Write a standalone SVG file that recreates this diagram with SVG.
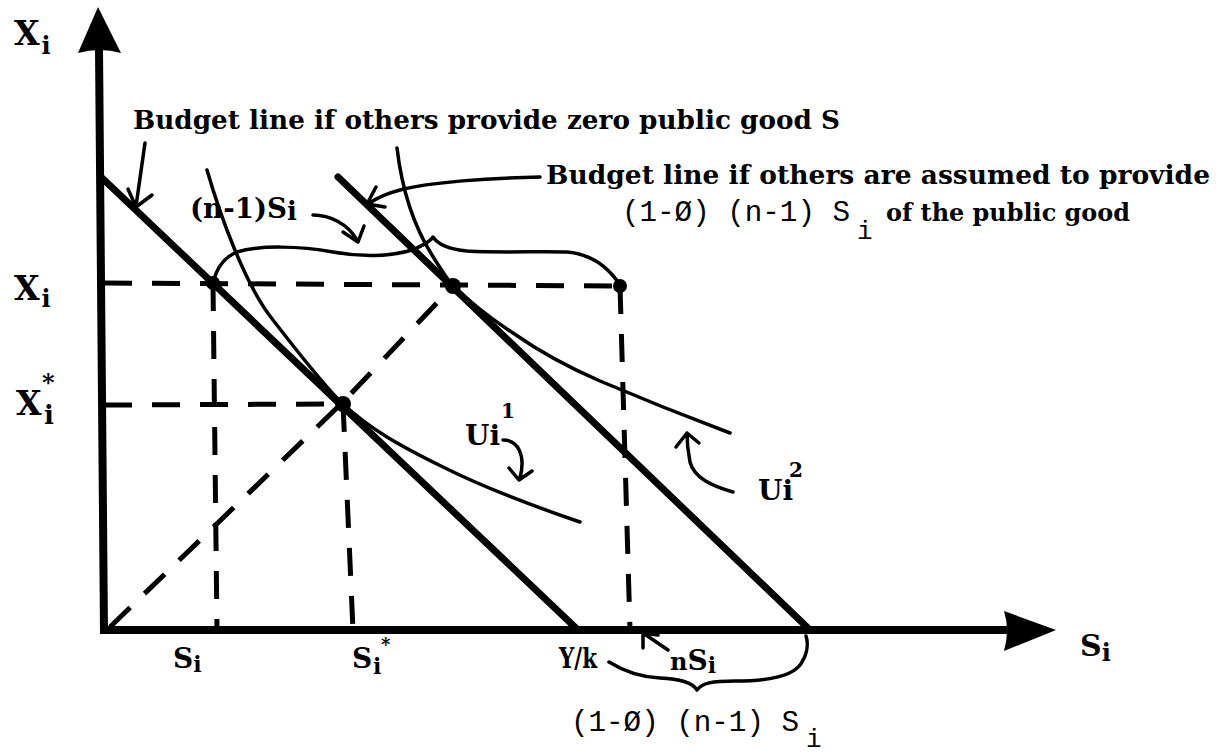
<svg xmlns="http://www.w3.org/2000/svg" width="1223" height="756" viewBox="0 0 1223 756">
<style>
.ax{stroke:#000;stroke-width:8;fill:none}
.bl{stroke:#000;stroke-width:7;fill:none;stroke-linecap:round}
.ic{stroke:#000;stroke-width:3.5;fill:none;stroke-linecap:round;stroke-linejoin:round}
.ds{stroke:#000;stroke-width:5;fill:none;stroke-dasharray:28 20}
.ar{stroke:#000;stroke-width:3.5;fill:none;stroke-linecap:round;stroke-linejoin:round}
.lb{font-family:"DejaVu Serif","Liberation Serif",serif;font-weight:bold;fill:#000}
.tw{font-family:"Liberation Mono","Courier New",monospace;fill:#000}
</style>
<rect width="1223" height="756" fill="#fff"/>

<g id="axes">
  <path class="ax" d="M99,48 L104,632"/>
  <path d="M98,7 L121,53 Q100,47 78,53 Z" fill="#000"/>
  <path class="ax" d="M100,630 L1012,630"/>
  <path d="M1056,630 L1004,611 Q1010,630 1004,651 Z" fill="#000"/>
</g>

<g id="guides">
  <path class="ds" d="M104,283 L620,286"/>
  <path class="ds" d="M104,405 L343,404"/>
  <path class="ds" d="M213,283 L217,630"/>
  <path class="ds" d="M343,404 L353,630"/>
  <path class="ds" d="M620,286 L630,630"/>
  <path class="ds" d="M110,627 L343,402 L453,286"/>
</g>

<g id="budget-lines">
  <path class="bl" d="M101,177 L578,630"/>
  <path class="bl" d="M338,177 L810,630"/>
</g>

<g id="indifference-curves">
  <path class="ic" d="M207,170 C220,215 245,285 273,320 C290,342 325,387 343,404 C370,429 400,446 443,467 C485,488 530,505 580,522"/>
  <path class="ic" d="M397,148 C402,190 415,228 432,255 C440,268 447,279 453,286 C470,302 490,318 513,333 C540,352 570,368 600,381 C640,398 690,418 730,433"/>
</g>

<g id="points">
  <circle cx="213" cy="283" r="7"/>
  <circle cx="453" cy="286" r="8"/>
  <circle cx="343" cy="404" r="8"/>
  <circle cx="620" cy="286" r="7"/>
</g>

<g id="connectors">
  <path class="ar" d="M213,283 C216,270 222,258 237,252 C260,245 300,246 333,252 C360,257 390,257 412,250 C422,246 430,242 433,237 C437,243 447,249 467,251 C500,253 540,251 567,252 C590,254 607,265 620,285"/>
  <path class="ar" d="M609,662 C625,672 640,677 660,678 C680,679 692,682 697,690 C702,683 712,681 735,681 C770,681 795,676 802,662 C808,652 808,642 806,636"/>
  <path class="ar" d="M145,143 C142,165 139,185 136,206 M128,189 L136,207 L152,195"/>
  <path class="ar" d="M540,177 C490,178 430,182 400,190 C385,194 375,199 368,204 M376,187 L367,204 L385,207"/>
  <path class="ar" d="M313,215 C330,215 348,224 357,240 M343,232 L358,242 L364,226"/>
  <path class="ar" d="M503,440 C518,440 526,455 520,478 M509,468 L519,480 L532,471"/>
  <path class="ar" d="M733,492 C712,486 694,478 690,462 C688,452 687,442 687,433 M676,447 L687,433 L699,443"/>
  <path class="ar" d="M668,650 L643,633 M643,648 L643,633 L658,635"/>
</g>

<g id="labels">
  <text class="lb" x="14" y="45" font-size="33">X<tspan font-size="24" dx="2" dy="9">i</tspan></text>
  <text class="lb" x="14" y="300" font-size="33">X<tspan font-size="24" dx="2" dy="7">i</tspan></text>
  <text class="lb" x="16" y="415" font-size="33">X</text>
  <text class="lb" x="44" y="424" font-size="26">i</text>
  <text class="lb" x="42" y="391" font-size="24">*</text>

  <text class="lb" x="133" y="129" font-size="26" textLength="707" lengthAdjust="spacingAndGlyphs">Budget line if others provide zero public good S</text>
  <text class="lb" x="546" y="184" font-size="26" textLength="664" lengthAdjust="spacingAndGlyphs">Budget line if others are assumed to provide</text>
  <text class="tw" x="622" y="221" font-size="30" textLength="228" lengthAdjust="spacingAndGlyphs">(1-Ø) (n-1) S</text>
  <text class="tw" x="857" y="239" font-size="26">i</text>
  <text class="lb" x="886" y="221" font-size="24" textLength="244" lengthAdjust="spacingAndGlyphs">of the public good</text>

  <text class="lb" x="190" y="218" font-size="28" textLength="97" lengthAdjust="spacingAndGlyphs">(n-1)S</text>
  <text class="lb" x="287" y="220" font-size="26">i</text>

  <text class="lb" x="465" y="445" font-size="28">Ui</text>
  <text class="lb" x="501" y="418" font-size="20" font-weight="normal">1</text>
  <text class="lb" x="758" y="500" font-size="28">Ui</text>
  <text class="lb" x="789" y="477" font-size="20" font-weight="normal">2</text>

  <text class="lb" x="173" y="668" font-size="28">S<tspan font-size="22" dy="4">i</tspan></text>
  <text class="lb" x="352" y="668" font-size="28">S</text>
  <text class="lb" x="373" y="674" font-size="22">i</text>
  <text class="lb" x="381" y="651" font-size="18">*</text>
  <text class="lb" x="559" y="668" font-size="27" textLength="38" lengthAdjust="spacingAndGlyphs">Y/k</text>
  <text class="lb" x="670" y="670" font-size="24">n<tspan font-size="28">S</tspan><tspan font-size="22" dy="3">i</tspan></text>
  <text class="lb" x="1080" y="656" font-size="30">S<tspan font-size="24" dy="5">i</tspan></text>

  <text class="tw" x="571" y="731" font-size="30" textLength="228" lengthAdjust="spacingAndGlyphs">(1-Ø) (n-1) S</text>
  <text class="tw" x="806" y="747" font-size="26">i</text>
</g>
</svg>
